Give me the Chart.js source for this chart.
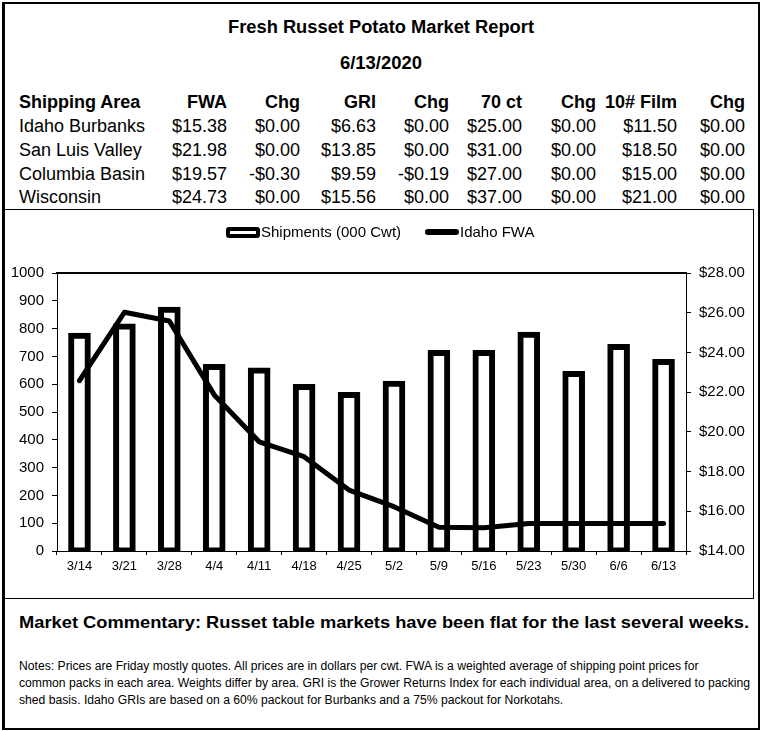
<!DOCTYPE html>
<html>
<head>
<meta charset="utf-8">
<script src="https://cdn.jsdelivr.net/npm/chart.js@4.4.1/dist/chart.umd.min.js"></script>
<style>
  html, body { margin:0; padding:0; background:#fff; }
  body { width:762px; height:731px; position:relative; overflow:hidden;
         font-family:"Liberation Sans", Arial, sans-serif; color:#000; }
  .abs { position:absolute; white-space:nowrap; }
  .t18 { font-size:18px; line-height:20px; }
  .b { font-weight:bold; }
  .fit { display:inline-block; transform-origin:0 0; }
  #frame { position:absolute; left:2px; top:2px; width:758px; height:728px; box-sizing:border-box;
           border-top:2px solid #000; border-left:3px solid #000; border-right:2px solid #000; border-bottom:2px solid #000; }
  #cbox { position:absolute; left:3px; top:209px; width:751px; height:390px; box-sizing:border-box;
          border-top:1.5px solid #000; border-right:1.5px solid #000; border-bottom:1.5px solid #000; }
  #chart { position:absolute; left:0; top:211px; }
  .cell { position:absolute; white-space:nowrap; font-size:18px; line-height:20px; text-align:right; }
  .lg-text { position:absolute; font-size:15px; line-height:18px; white-space:nowrap; }
</style>
</head>
<body>
<div id="frame"></div>
<div id="cbox"></div>
<canvas id="chart" width="752" height="386"></canvas>
<div id="header"></div>
<div id="legend"></div>
<div id="footer"></div>
<script>
// ---------- data ----------
const reportTitle = 'Fresh Russet Potato Market Report';
const reportDate = '6/13/2020';
const tableHeaders = ['Shipping Area', 'FWA', 'Chg', 'GRI', 'Chg', '70 ct', 'Chg', '10# Film', 'Chg'];
const areas = ['Idaho Burbanks', 'San Luis Valley', 'Columbia Basin', 'Wisconsin'];
const fwa = ['$15.38', '$21.98', '$19.57', '$24.73'];
const fwaChg = ['$0.00', '$0.00', '-$0.30', '$0.00'];
const gri = ['$6.63', '$13.85', '$9.59', '$15.56'];
const griChg = ['$0.00', '$0.00', '-$0.19', '$0.00'];
const ct70 = ['$25.00', '$31.00', '$27.00', '$37.00'];
const ct70Chg = ['$0.00', '$0.00', '$0.00', '$0.00'];
const film10 = ['$11.50', '$18.50', '$15.00', '$21.00'];
const film10Chg = ['$0.00', '$0.00', '$0.00', '$0.00'];

const weeks = ['3/14', '3/21', '3/28', '4/4', '4/11', '4/18', '4/25', '5/2', '5/9', '5/16', '5/23', '5/30', '6/6', '6/13'];
const shipments = [774, 808, 868, 662, 649, 590, 561, 602, 712, 712, 778, 637, 734, 680];
const idahoFWA = [22.58, 26.02, 25.58, 21.86, 19.50, 18.75, 17.07, 16.23, 15.20, 15.17, 15.38, 15.38, 15.38, 15.38];
const shipmentsLabel = 'Shipments (000 Cwt)';
const fwaLabel = 'Idaho FWA';

const commentary = 'Market Commentary: Russet table markets have been flat for the last several weeks.';
const notes = [
  'Notes: Prices are Friday mostly quotes. All prices are in dollars per cwt. FWA is a weighted average of shipping point prices for',
  'common packs in each area. Weights differ by area. GRI is the Grower Returns Index for each individual area, on a delivered to packing',
  'shed basis. Idaho GRIs are based on a 60% packout for Burbanks and a 75% packout for Norkotahs.'
];

// ---------- layout helpers ----------
function el(parent, cls, text, css) {
  const d = document.createElement('div');
  d.className = cls;
  d.textContent = text;
  Object.assign(d.style, css || {});
  parent.appendChild(d);
  return d;
}
function fitWidth(node, target) {
  node.style.transform = '';
  const w = node.getBoundingClientRect().width;
  node.style.transform = 'scaleX(' + (target / w) + ')';
  return target / w;
}

const header = document.getElementById('header');
const titleEl = el(header, 'abs t18 b fit', reportTitle, { left: '228px', top: '17px' });
const dateEl = el(header, 'abs t18 b fit', reportDate, { left: '340px', top: '53px' });

const colRight = [0, 227, 300, 376, 449, 522, 596, 677, 745];
const rowTops = [92, 116, 140, 163.5, 187];
el(header, 'abs t18 b', tableHeaders[0], { left: '19px', top: rowTops[0] + 'px' });
for (let c = 1; c < tableHeaders.length; c++) {
  el(header, 'cell b', tableHeaders[c], { right: (762 - colRight[c]) + 'px', top: rowTops[0] + 'px' });
}
const cols = [fwa, fwaChg, gri, griChg, ct70, ct70Chg, film10, film10Chg];
areas.forEach((a, r) => {
  el(header, 'abs t18', a, { left: '19px', top: rowTops[r + 1] + 'px' });
  cols.forEach((col, c) => {
    el(header, 'cell', col[r], { right: (762 - colRight[c + 1]) + 'px', top: rowTops[r + 1] + 'px' });
  });
});

// legend (HTML)
const legend = document.getElementById('legend');
el(legend, 'abs', '', { left: '226px', top: '227px', width: '34px', height: '11px', boxSizing: 'border-box',
  border: '4px solid #000', borderRadius: '3px', background: '#fff' });
el(legend, 'lg-text', shipmentsLabel, { left: '261px', top: '223px' });
el(legend, 'abs', '', { left: '425px', top: '229px', width: '34px', height: '6px', background: '#000', borderRadius: '3px' });
el(legend, 'lg-text', fwaLabel, { left: '460px', top: '223px' });

// footer
const footer = document.getElementById('footer');
const commEl = el(footer, 'abs b fit', commentary, { left: '19px', top: '612px', fontSize: '16.5px', lineHeight: '20px' });
const noteTops = [658, 675, 692];
const noteEls = notes.map((n, i) => el(footer, 'abs fit', n, { left: '19px', top: noteTops[i] + 'px', fontSize: '12px', lineHeight: '17px' }));

fitWidth(titleEl, 306);
fitWidth(dateEl, 82);
fitWidth(commEl, 730);
const ns = fitWidth(noteEls[1], 731);
noteEls[0].style.transform = 'scaleX(' + ns + ')';
noteEls[2].style.transform = 'scaleX(' + ns + ')';

// ---------- chart ----------
Chart.defaults.font.family = '"Liberation Sans", Arial, sans-serif';
Chart.defaults.color = '#000';

new Chart(document.getElementById('chart').getContext('2d'), {
  data: {
    labels: weeks,
    datasets: [
      {
        type: 'line', label: fwaLabel, data: idahoFWA, yAxisID: 'y1', xAxisID: 'x',
        borderColor: '#000', backgroundColor: '#000', borderWidth: 5, pointRadius: 0,
        tension: 0, borderCapStyle: 'round', borderJoinStyle: 'round', order: 0
      },
      {
        type: 'bar', label: shipmentsLabel, data: shipments, yAxisID: 'y', xAxisID: 'x',
        backgroundColor: '#fff', borderColor: '#000', borderWidth: 6, borderSkipped: false,
        inflateAmount: 3, barPercentage: 0.37, categoryPercentage: 1, order: 1
      }
    ]
  },
  options: {
    responsive: false,
    animation: false,
    devicePixelRatio: 1,
    events: [],
    layout: { padding: { top: 62, left: 0, right: 0, bottom: 0 } },
    plugins: { legend: { display: false }, tooltip: { enabled: false } },
    scales: {
      x: {
        type: 'category', position: 'bottom', offset: true,
        grid: { display: true, drawOnChartArea: false, drawTicks: true, tickLength: 4, color: '#000', offset: true },
        border: { display: true, color: '#000', width: 1 },
        ticks: { font: { size: 13 }, color: '#000', padding: 4, maxRotation: 0, autoSkip: false },
        afterFit: s => { s.height = 46; }
      },
      xTop: {
        type: 'category', position: 'top', labels: weeks, offset: true,
        grid: { display: false, drawTicks: false },
        border: { display: true, color: '#000', width: 2 },
        ticks: { display: false },
        afterFit: s => { s.height = 0; }
      },
      y: {
        type: 'linear', position: 'left', min: 0, max: 1000,
        grid: { display: true, drawOnChartArea: false, drawTicks: true, tickLength: 5, color: '#000' },
        border: { display: true, color: '#000', width: 1 },
        ticks: { stepSize: 100, font: { size: 15 }, color: '#000', padding: 8,
                 callback: v => String(v) },
        afterFit: s => { s.width = 57; }
      },
      y1: {
        type: 'linear', position: 'right', min: 14, max: 28,
        grid: { display: true, drawOnChartArea: false, drawTicks: true, tickLength: 5, color: '#000' },
        border: { display: true, color: '#000', width: 1 },
        ticks: { stepSize: 2, font: { size: 15 }, color: '#000', padding: 8,
                 callback: v => '$' + Number(v).toFixed(2) },
        afterFit: s => { s.width = 66; }
      }
    }
  }
});
</script>
</body>
</html>
